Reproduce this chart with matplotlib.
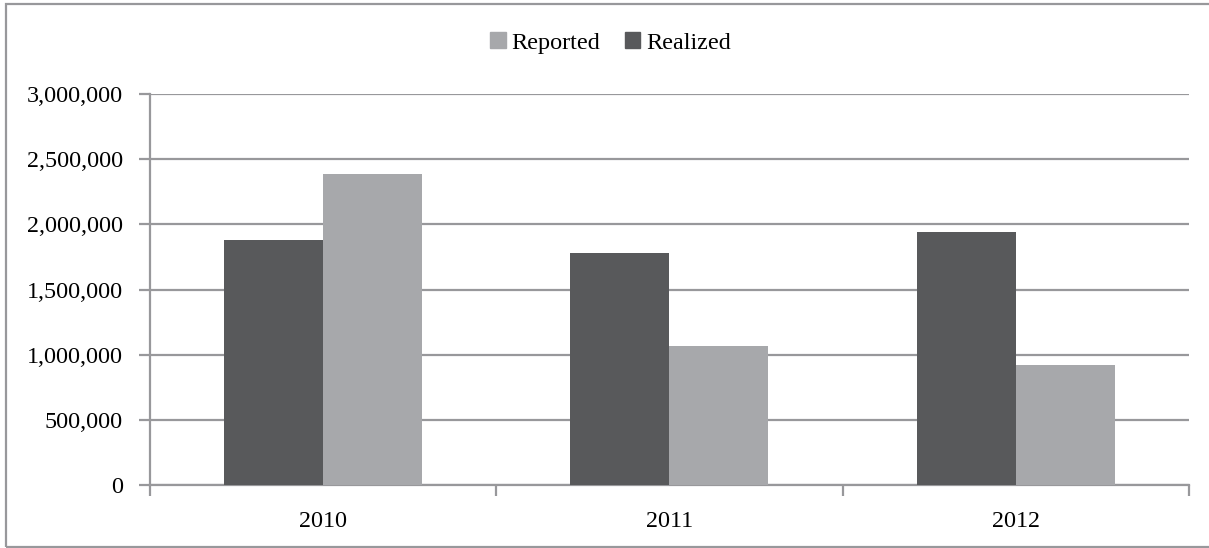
import matplotlib
matplotlib.use("Agg")
import matplotlib.pyplot as plt
from matplotlib.patches import Rectangle, Patch
from matplotlib.ticker import FuncFormatter, FixedLocator
import numpy as np

years = ["2010", "2011", "2012"]
realized = [1880000, 1780000, 1940000]
reported = [2385000, 1065000, 920000]

DARK = "#58595b"
LIGHT = "#a7a8ab"
GRID = "#98989b"

plt.rcParams["font.family"] = ["Liberation Serif", "DejaVu Serif"]
FS = 17.4
plt.rcParams["font.size"] = FS

W, H = 1209, 548
fig = plt.figure(figsize=(W / 100, H / 100), dpi=100)

# outer chart border
fig.patches.append(Rectangle((6 / W, (H - 547) / H), 1.2, (547 - 4) / H,
                             transform=fig.transFigure, fill=False,
                             edgecolor=GRID, linewidth=1.6))

ax = fig.add_axes([149.5 / W, (H - 485) / H, (1189 - 149.5) / W, 391 / H])

x = np.arange(len(years))
bw = 1 / 3.5
ax.bar(x - bw / 2, realized, width=bw, color=DARK, zorder=3)
ax.bar(x + bw / 2, reported, width=bw, color=LIGHT, zorder=3)

ax.set_xlim(-0.5, len(years) - 0.5)
ax.set_ylim(0, 3000000)
ax.set_yticks(np.arange(0, 3000001, 500000))
ax.yaxis.set_major_formatter(FuncFormatter(lambda v, p: f"{int(v):,}"))
ax.yaxis.grid(True, color=GRID, linewidth=1.6, zorder=0)

ax.xaxis.set_major_locator(FixedLocator([-0.5, 0.5, 1.5, 2.5]))
ax.set_xticklabels([])
ax.xaxis.set_minor_locator(FixedLocator(x))
ax.set_xticks(x, years, minor=True)
ax.tick_params(axis="x", which="minor", length=0, pad=19, labelsize=FS)
ax.tick_params(axis="x", which="major", length=8, width=1.6, color=GRID)
ax.tick_params(axis="y", length=8, width=1.6, color=GRID, pad=11, labelsize=FS)

for s in ["top", "right"]:
    ax.spines[s].set_visible(False)
for s in ["left", "bottom"]:
    ax.spines[s].set_color(GRID)
    ax.spines[s].set_linewidth(1.6)
ax.set_axisbelow(True)

handles = [Patch(color=LIGHT, label="Reported"), Patch(color=DARK, label="Realized")]
fig.legend(handles=handles, loc="center", bbox_to_anchor=(0.505, (H - 43) / H),
           ncol=2, frameon=False, fontsize=FS, handlelength=0.65, handleheight=0.65,
           handletextpad=0.25, columnspacing=1.0)

fig.savefig("out.png", dpi=100)
